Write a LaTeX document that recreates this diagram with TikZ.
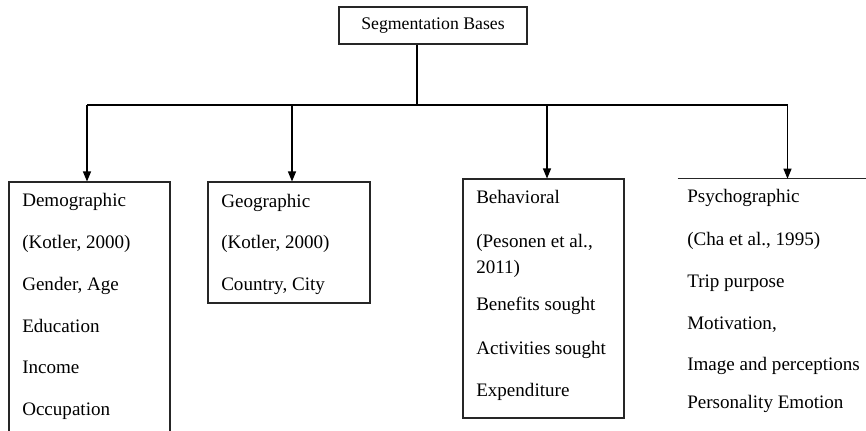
\documentclass[tikz,border=0pt]{standalone}
\usepackage{fontspec}
\setmainfont{Liberation Serif}
\usetikzlibrary{arrows.meta}
\begin{document}
\begin{tikzpicture}[x=0.75pt,y=-0.75pt,
  box/.style={draw=black!85,line width=0.8pt,rectangle,inner sep=0pt},
  region/.style={rectangle,inner sep=0pt},
  edge/.style={draw=black!85,line width=0.8pt},
  txt/.style={anchor=base west,inner sep=0pt,font=\fontsize{14.3}{16}\selectfont},
  conn/.style={line width=0.8pt},
  arr/.style={line width=0.8pt,-{Triangle[length=7.5pt,width=6pt]}}]
\useasboundingbox (0,0) rectangle (866,430);
\clip (0,0) rectangle (866,430);
% boxes
\node[box,minimum width=141pt,minimum height=27.75pt,font=\fontsize{13.3}{16}\selectfont] (top) at (433,25.5) {Segmentation Bases};
\node[box,minimum width=120.75pt,minimum height=201pt] (demo) at (89.5,316) {};
\node[box,minimum width=121.5pt,minimum height=90.75pt] (geo) at (289,242.5) {};
\node[box,minimum width=120.75pt,minimum height=179.25pt] (beh) at (543.5,298.5) {};
\node[region,minimum width=159pt,minimum height=203.25pt] (psy) at (784,314.5) {};
\draw[edge] (psy.north west) -- (psy.north east);
% connectors
\coordinate (j) at (417,105);
\coordinate (a1) at (87,105);
\coordinate (a2) at (292,105);
\coordinate (a3) at (547,105);
\coordinate (a4) at (787.5,105);
\draw[conn] (top.south -| j) -- (j);
\draw[conn] (a1) -- (a4);
\draw[arr] (a1) -- (a1 |- demo.north);
\draw[arr] (a2) -- (a2 |- geo.north);
\draw[arr] (a3) -- (a3 |- beh.north);
\draw[arr] (a4) -- (a4 |- psy.north);
% demographic texts
\node[txt] (d1) at (22,206) {Demographic};
\node[txt] (d2) at (22,248) {(Kotler, 2000)};
\node[txt] (d3) at (22,290) {Gender, Age};
\node[txt] (d4) at (22,332) {Education};
\node[txt] (d5) at (22,373) {Income};
\node[txt] (d6) at (22,415) {Occupation};
% geographic texts
\node[txt] (g1) at (221,207) {Geographic};
\node[txt] (g2) at (221,248) {(Kotler, 2000)};
\node[txt] (g3) at (221,290) {Country, City};
% behavioral texts
\node[txt] (b1) at (476,203) {Behavioral};
\node[txt] (b2) at (476,247) {(Pesonen et al.,};
\node[txt] (b3) at (476,273) {2011)};
\node[txt] (b4) at (476,310) {Benefits sought};
\node[txt] (b5) at (476,354) {Activities sought};
\node[txt] (b6) at (476,396) {Expenditure};
% psychographic texts
\node[txt] (p1) at (687,202) {Psychographic};
\node[txt] (p2) at (687,245) {(Cha et al., 1995)};
\node[txt] (p3) at (687,287) {Trip purpose};
\node[txt] (p4) at (687,329) {Motivation,};
\node[txt] (p5) at (687,370) {Image and perceptions};
\node[txt] (p6) at (687,408) {Personality Emotion};
\end{tikzpicture}
\end{document}
